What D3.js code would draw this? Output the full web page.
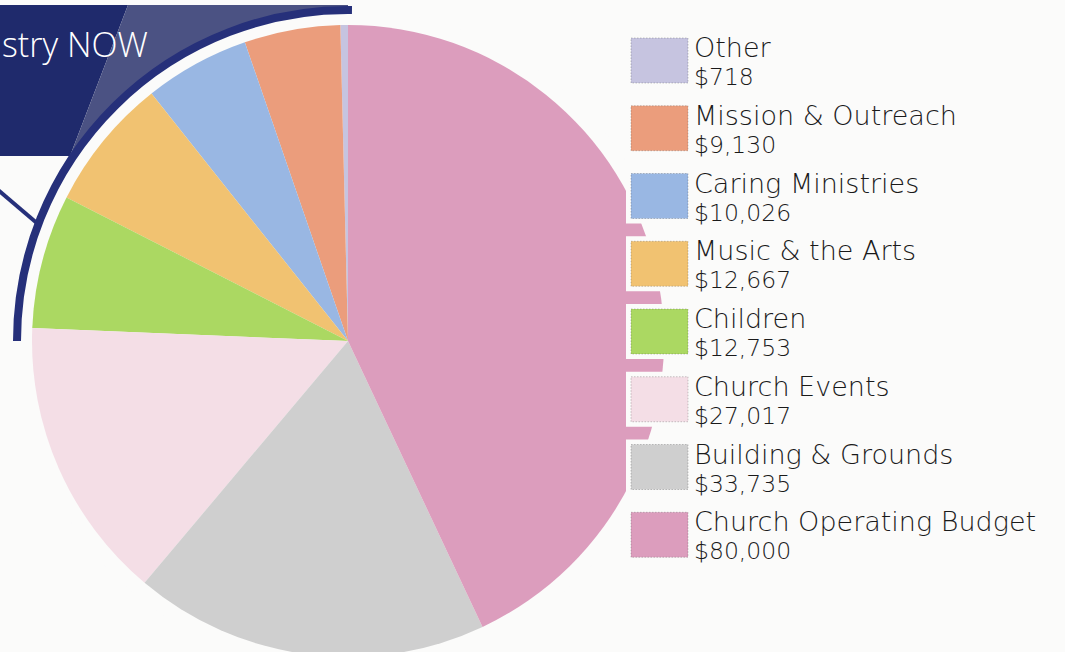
<!DOCTYPE html>
<html>
<head>
<meta charset="utf-8">
<script src="https://cdn.jsdelivr.net/npm/d3@7"></script>
<style>
  html, body { margin: 0; background: #fbfbfa; }
  svg { display: block; }
  .lbl { font-family: "DejaVu Sans", "Liberation Sans", sans-serif; font-weight: 200; fill: #1a1a1a; }
</style>
</head>
<body>
<svg id="chart" width="1065" height="652"></svg>
<script>
/* Giving breakdown pie — legend order is top to bottom, pie runs the other way. */
var categories = ["Other", "Mission & Outreach", "Caring Ministries", "Music & the Arts",
                  "Children", "Church Events", "Building & Grounds", "Church Operating Budget"];
var amounts = [718, 9130, 10026, 12667, 12753, 27017, 33735, 80000];
var sliceColors = ["#c6c4e0", "#eb9d7c", "#99b7e3", "#f1c271",
                   "#abd862", "#f4dee6", "#cfcfcf", "#dc9dbd"];
var bannerText = "stry NOW";

(function () {
  "use strict";
  var W = 1065, H = 652;
  var cx = 348, cy = 341, R = 316, ringR = 331;
  var svg = d3.select("#chart");
  var bg = "#fbfbfa";
  var navy = "#1f2a6c", slate = "#4b5283", ringCol = "#26307a";

  // banner block behind the ring (dark part + lighter slanted part)
  var bannerTop = 5, bannerBot = 156;
  svg.append("path").attr("fill", navy)
    .attr("d", d3.line()([[0, bannerTop], [128, bannerTop], [70, bannerBot], [0, bannerBot]]) + "Z");
  svg.append("path").attr("fill", slate)
    .attr("d", d3.line()([[128, bannerTop], [348, bannerTop], [348, bannerBot], [70, bannerBot]]) + "Z");
  // thin connector line under the banner
  svg.append("path").attr("stroke", ringCol).attr("stroke-width", 4).attr("fill", "none")
    .attr("d", d3.line()([[-2, 190], [38, 224]]));
  // knock the disc out of the banner
  svg.append("circle").attr("cx", cx).attr("cy", cy).attr("r", ringR).attr("fill", bg);

  svg.append("text").attr("x", 2).attr("y", 57)
    .attr("fill", "#ffffff").style("font-family", "'Open Sans', 'Liberation Sans', sans-serif")
    .style("font-weight", 300).style("font-size", "34px").text(bannerText);

  // ring around the pie
  svg.append("path").attr("transform", "translate(" + cx + "," + cy + ")")
    .attr("fill", "none").attr("stroke", ringCol).attr("stroke-width", 8)
    .attr("stroke-linecap", "round")
    .attr("d", d3.arc()({ innerRadius: ringR, outerRadius: ringR, startAngle: -Math.PI / 2, endAngle: 0.012 }));

  // pie
  var pie = d3.pie().sort(null).startAngle(2 * Math.PI).endAngle(0);
  var arc = d3.arc().innerRadius(0).outerRadius(R);
  var data = pie(amounts);
  svg.append("g").attr("transform", "translate(" + cx + "," + cy + ")")
    .selectAll("path").data(data).enter().append("path")
    .attr("d", arc)
    .attr("fill", function (d, i) { return sliceColors[i]; });

  // legend
  var y = d3.scaleBand().domain(categories).range([33, 575]);
  var fmt = d3.format(",");
  var rows = svg.append("g").selectAll("g").data(categories).enter().append("g")
    .attr("transform", function (c) { return "translate(0," + y(c) + ")"; });
  rows.append("rect").attr("x", 626).attr("y", 0).attr("width", W - 626).attr("height", 55)
    .attr("fill", bg);
  rows.append("rect").attr("x", 631).attr("y", 5).attr("width", 57).attr("height", 45)
    .attr("fill", function (c, i) { return sliceColors[i]; })
    .attr("stroke", "rgba(60,60,60,0.35)").attr("stroke-width", 0.8).attr("stroke-dasharray", "1.5,1.5");
  rows.append("text").attr("class", "lbl").attr("x", 694).attr("y", 24)
    .style("font-size", "27px").text(function (c) { return c; });
  rows.append("text").attr("class", "lbl").attr("x", 694).attr("y", 52)
    .style("font-size", "23.5px").text(function (c, i) { return "$" + fmt(amounts[i]); });
})();
</script>
</body>
</html>
